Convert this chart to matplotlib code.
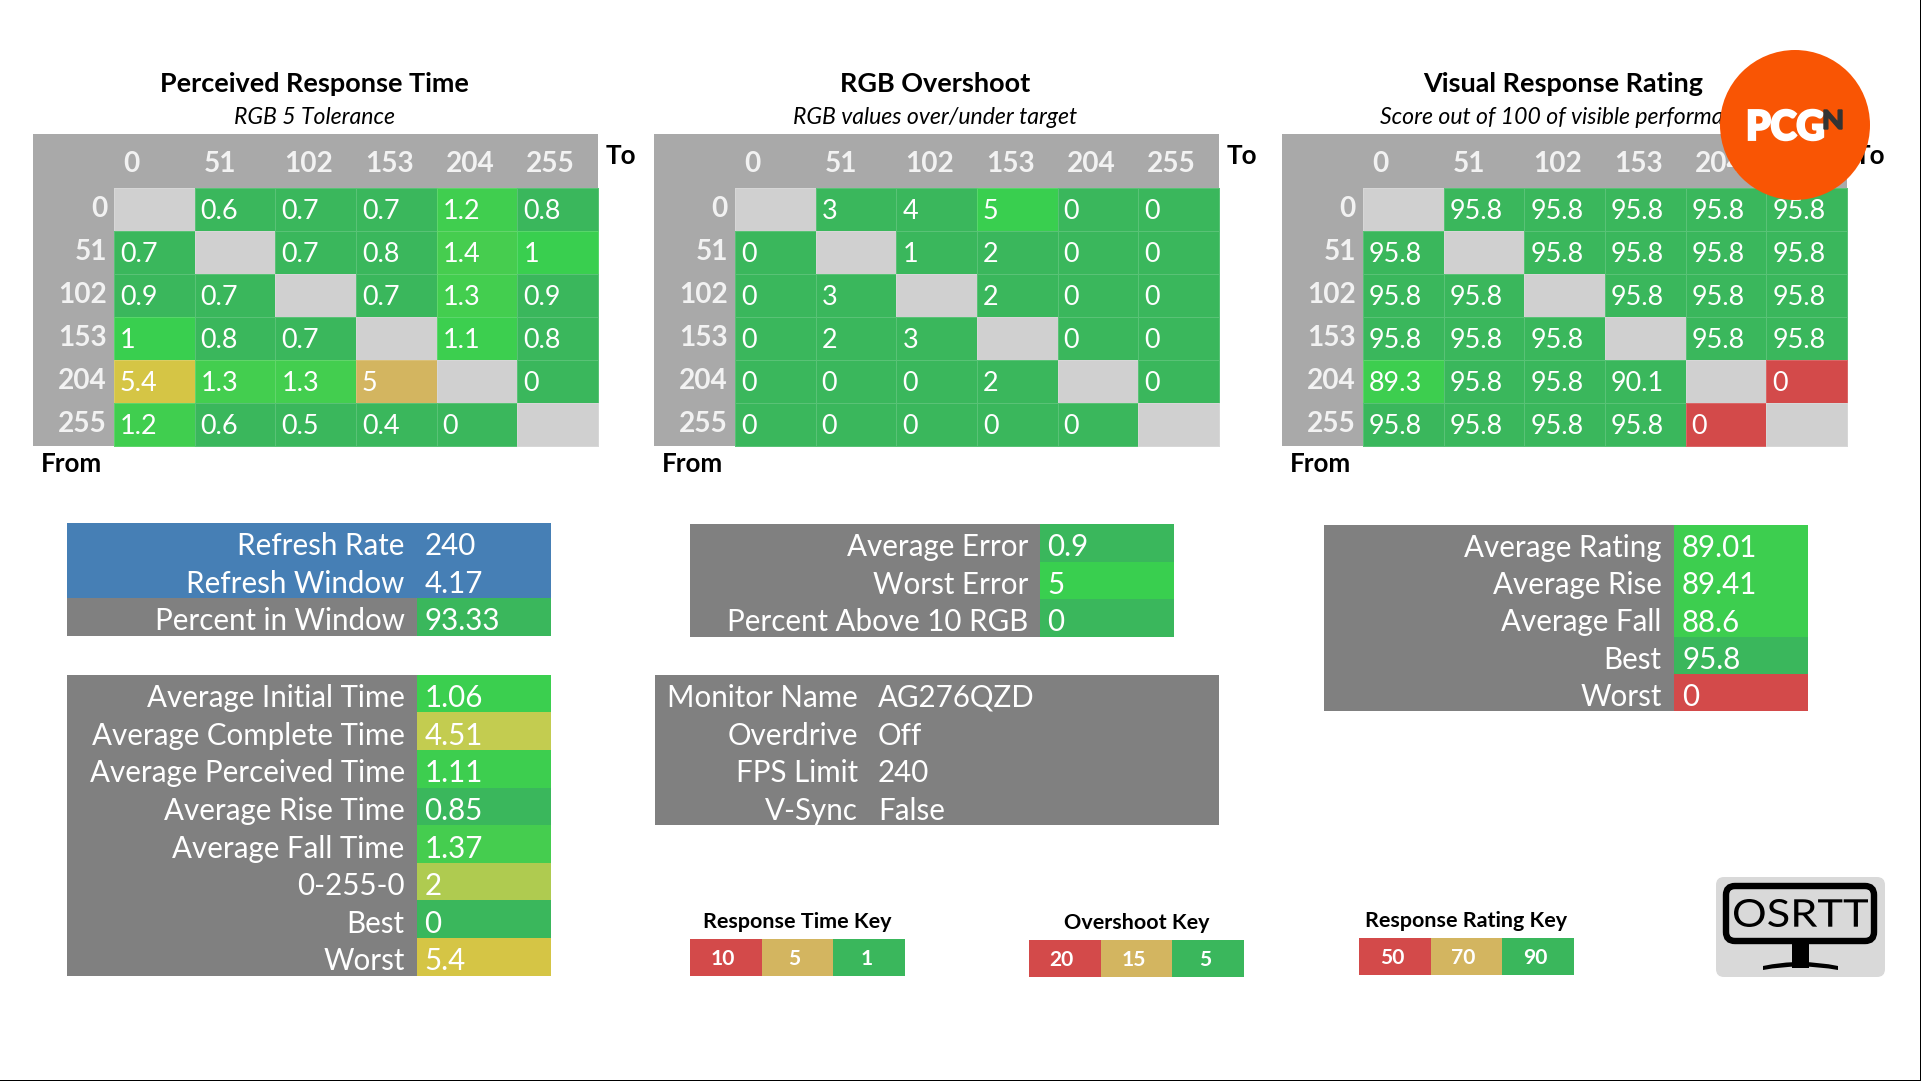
import numpy as np
import matplotlib
matplotlib.use("Agg")
import matplotlib.pyplot as plt
from matplotlib.colors import to_rgb
from matplotlib.font_manager import FontProperties
from matplotlib.patches import Circle, FancyBboxPatch, PathPatch, Rectangle
from matplotlib.path import Path
from matplotlib.textpath import TextPath
from matplotlib.transforms import Affine2D

plt.rcParams["font.family"] = ["Lato", "DejaVu Sans"]

levels = ["0", "51", "102", "153", "204", "255"]

perceived = [
    [None, 0.6, 0.7, 0.7, 1.2, 0.8],
    [0.7, None, 0.7, 0.8, 1.4, 1],
    [0.9, 0.7, None, 0.7, 1.3, 0.9],
    [1, 0.8, 0.7, None, 1.1, 0.8],
    [5.4, 1.3, 1.3, 5, None, 0],
    [1.2, 0.6, 0.5, 0.4, 0, None],
]
overshoot = [
    [None, 3, 4, 5, 0, 0],
    [0, None, 1, 2, 0, 0],
    [0, 3, None, 2, 0, 0],
    [0, 2, 3, None, 0, 0],
    [0, 0, 0, 2, None, 0],
    [0, 0, 0, 0, 0, None],
]
rating = [
    [None, 95.8, 95.8, 95.8, 95.8, 95.8],
    [95.8, None, 95.8, 95.8, 95.8, 95.8],
    [95.8, 95.8, None, 95.8, 95.8, 95.8],
    [95.8, 95.8, 95.8, None, 95.8, 95.8],
    [89.3, 95.8, 95.8, 90.1, None, 0],
    [95.8, 95.8, 95.8, 95.8, 0, None],
]

refresh_labels = ["Refresh Rate", "Refresh Window", "Percent in Window"]
refresh_values = [240, 4.17, 93.33]

time_labels = ["Average Initial Time", "Average Complete Time", "Average Perceived Time",
               "Average Rise Time", "Average Fall Time", "0-255-0", "Best", "Worst"]
time_values = [1.06, 4.51, 1.11, 0.85, 1.37, 2, 0, 5.4]

error_labels = ["Average Error", "Worst Error", "Percent Above 10 RGB"]
error_values = [0.9, 5, 0]

monitor_labels = ["Monitor Name", "Overdrive", "FPS Limit", "V-Sync"]
monitor_values = ["AG276QZD", "Off", 240, "False"]

rating_labels = ["Average Rating", "Average Rise", "Average Fall", "Best", "Worst"]
rating_values = [89.01, 89.41, 88.6, 95.8, 0]

rt_key = [10, 5, 1]
os_key = [20, 15, 5]
rr_key = [50, 70, 90]

GREEN = "#3AB75C"
BRIGHT = "#39CF4F"
TAN = "#D3B560"
RED = "#D34A4A"
HEADER = "#A9A9A9"
DIAGONAL = "#D0D0D0"
PANEL = "#808080"
BLUE = "#467FB5"
ORANGE = "#F95504"

RT_STOPS = [1, 1.4, 2, 4.51, 5.4]
RT_COLOURS = ["#39CF4F", "#46CD4F", "#AFCB50", "#C3CC50", "#D5C545"]


def rt_colour(v):
    if v < 1:
        return GREEN
    if v == 5:
        return TAN
    rgb = np.array([to_rgb(c) for c in RT_COLOURS])
    return tuple(np.interp(v, RT_STOPS, rgb[:, i]) for i in range(3))


def os_colour(v):
    return BRIGHT if v >= 5 else GREEN


def rr_colour(v):
    if v == 0:
        return RED
    return GREEN if v >= 90 else "#3DCE4F"


fig = plt.figure(figsize=(19.21, 10.81), dpi=100)
ax = fig.add_axes([0, 0, 1, 1])
ax.set_xlim(0, 1921)
ax.set_ylim(1081, 0)
ax.axis("off")


def px(size):
    return size * 0.72


def heatmap(left, title, subtitle, values, colour, sub_left=None):
    right = left + 565
    col_start = left + 81
    top = 133.5
    head_bottom = 187.5
    row_h = 43
    col_w = (right - col_start) / 6
    ax.add_patch(Rectangle((left, top), right - left, head_bottom + 6 * row_h - top, color=HEADER, lw=0))

    xs = col_start + col_w * np.arange(7)
    ys = head_bottom + row_h * np.arange(7)
    rgb = np.array([[to_rgb(DIAGONAL if v is None else colour(v)) for v in row] for row in values])
    ax.pcolormesh(xs, ys, rgb, edgecolors=(1, 1, 1, 0.16), linewidth=0.7)

    head_offsets = [17, 25, 33, 33.5, 33.5, 33]
    for i, lab in enumerate(levels):
        ax.text(xs[i] + head_offsets[i], 163.5, lab, ha="center", va="center",
                fontsize=px(28), fontweight="bold", color="#F2F2F2")
        ax.text(col_start - 7, ys[i] + row_h / 2, lab, ha="right", va="center",
                fontsize=px(28), fontweight="bold", color="#F2F2F2")
        for j, v in enumerate(values[i]):
            if v is not None:
                ax.text(xs[j] + 6, ys[i] + row_h / 2 + 2.5, str(v), ha="left", va="center",
                        fontsize=px(27), color="white")

    centre = left + 281
    ax.text(centre, 84.5, title, ha="center", va="center", fontsize=px(27), fontweight="bold", color="black")
    if sub_left is None:
        ax.text(centre, 117, subtitle, ha="center", va="center", fontsize=px(23), style="italic", color="black")
    else:
        ax.text(sub_left, 117, subtitle, ha="left", va="center", fontsize=px(23), style="italic", color="black")
    ax.text(right + 8, 155.5, "To", ha="left", va="center", fontsize=px(26), fontweight="bold", color="black")
    ax.text(left + 8, 464.5, "From", ha="left", va="center", fontsize=px(26), fontweight="bold", color="black")


def panel(left, right, val_start, top, row_h, labels, values, colours, label_right, value_left):
    n = len(labels)
    ax.add_patch(Rectangle((left, top), right - left, n * row_h, color=PANEL, lw=0))
    for i, (lab, val) in enumerate(zip(labels, values)):
        y = top + i * row_h
        if colours[i] is not None:
            ax.add_patch(Rectangle((val_start, y), right - val_start, row_h, color=colours[i], lw=0))
        ax.text(label_right, y + row_h / 2 + 4.5, lab, ha="right", va="center", fontsize=px(29.5), color="white")
        ax.text(value_left, y + row_h / 2 + 4.5, str(val), ha="left", va="center", fontsize=px(29.5), color="white")


def key(left, top, title, title_y, values):
    cell_w = 71.7
    cell_h = 36.7
    for i, (v, c) in enumerate(zip(values, [RED, TAN, GREEN])):
        ax.add_patch(Rectangle((left + i * cell_w, top), cell_w, cell_h, color=c, lw=0))
        ax.text(left + (i + 0.5) * cell_w - 3, top + cell_h / 2 + 1, str(v), ha="center", va="center",
                fontsize=px(21), fontweight="bold", color="white")
    ax.text(left + 1.5 * cell_w, title_y, title, ha="center", va="center",
            fontsize=px(21.5), fontweight="bold", color="black")


def fit_text(text, x0, y0, x1, y1, color, weight="bold", stroke=0.0, zorder=5):
    # squeeze the glyph outlines into a pixel box (y axis points down)
    tp = TextPath((0, 0), text, size=10, prop=FontProperties(family="Lato", weight=weight))
    box = tp.get_extents()
    tr = (Affine2D().translate(-box.x0, -box.y0)
          .scale((x1 - x0) / box.width, -(y1 - y0) / box.height)
          .translate(x0, y1))
    ax.add_patch(PathPatch(tr.transform_path(tp), facecolor=color, edgecolor=color, lw=stroke, zorder=zorder))


heatmap(33, "Perceived Response Time", "RGB 5 Tolerance", perceived, rt_colour)
heatmap(654, "RGB Overshoot", "RGB values over/under target", overshoot, os_colour)
heatmap(1282, "Visual Response Rating", "Score out of 100 of visible performance", rating, rr_colour, sub_left=1380)

# left column
panel(67, 551, 416.6, 522.7, 37.7, refresh_labels, refresh_values, [None, None, GREEN], 404.7, 424.6)
ax.add_patch(Rectangle((67, 522.7), 484, 75.4, color=BLUE, lw=0, zorder=1.5))
panel(67, 551, 416.6, 674.7, 37.63, time_labels, time_values, [rt_colour(v) for v in time_values], 404.7, 424.6)

# middle column
panel(690, 1174, 1040, 524, 37.55, error_labels, error_values, [os_colour(v) for v in error_values], 1028.4, 1047.6)
panel(654.5, 1219.4, 1219.4, 674.7, 37.55, monitor_labels, monitor_values, [None] * 4, 858, 878)

# right column
panel(1323.7, 1808, 1673.6, 525, 37.2, rating_labels, rating_values, [rr_colour(v) for v in rating_values], 1661.7, 1682)

key(690, 939.3, "Response Time Key", 922, rt_key)
key(1029, 940.3, "Overshoot Key", 923, os_key)
key(1359, 938.3, "Response Rating Key", 921, rr_key)

# OSRTT logo
ax.add_patch(FancyBboxPatch((1716, 877), 169, 100, boxstyle="round,pad=0,rounding_size=8",
                            facecolor="#D9D9D9", edgecolor="none", zorder=2))
ax.add_patch(FancyBboxPatch((1726, 886), 148, 55, boxstyle="round,pad=0,rounding_size=9",
                            facecolor="#D9D9D9", edgecolor="black", lw=4.6, zorder=3))
ax.add_patch(Rectangle((1792, 944), 17, 24, color="black", lw=0, zorder=3))
base = Path([(1763, 966), (1800, 958), (1838, 966), (1838, 970), (1800, 963), (1763, 970), (1763, 966)],
            [Path.MOVETO, Path.CURVE3, Path.CURVE3, Path.LINETO, Path.CURVE3, Path.CURVE3, Path.CLOSEPOLY])
ax.add_patch(PathPatch(base, facecolor="black", edgecolor="none", zorder=3))
fit_text("OSRTT", 1734, 899, 1868, 927, "black", weight="normal")

# PCGN badge
ax.add_patch(Circle((1795, 125), 75, facecolor=ORANGE, edgecolor="none", zorder=4))
fit_text("PCG", 1749, 110, 1823, 140, "white", weight="black", stroke=1.8)
fit_text("N", 1824, 110, 1842, 129, "#333333", weight="black", stroke=1.0)

# screenshot edge
ax.add_patch(Rectangle((1920, 0), 1, 1081, color="black", lw=0, zorder=6))
ax.add_patch(Rectangle((0, 1080), 1921, 1, color="black", lw=0, zorder=6))

fig.savefig("out.png", dpi=100, facecolor="white")
